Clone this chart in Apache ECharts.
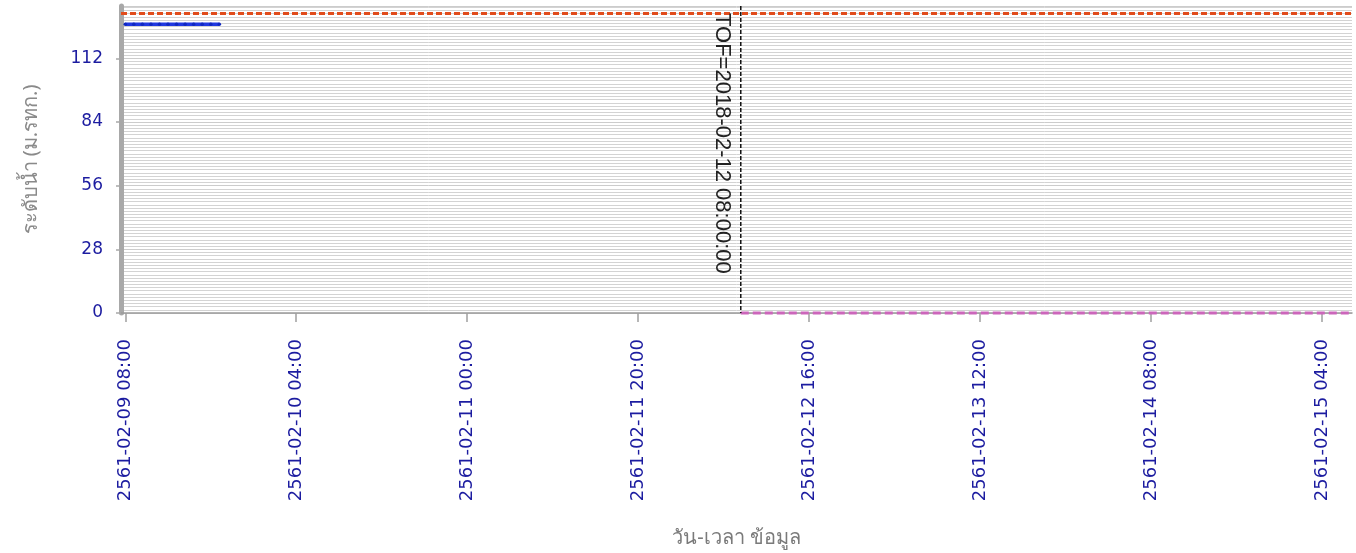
<!DOCTYPE html>
<html>
<head>
<meta charset="utf-8">
<script src="https://cdn.jsdelivr.net/npm/echarts@6/dist/echarts.min.js"></script>
<style>
html,body{margin:0;padding:0;background:#fff;}
#chart{width:1356px;height:553px;}
</style>
</head>
<body>
<div id="chart"></div>
<script>
// ---- data (Thai Buddhist-era timestamps, as shown on the chart) ----
const xTickLabels = ['2561-02-09 08:00','2561-02-10 04:00','2561-02-11 00:00','2561-02-11 20:00',
                     '2561-02-12 16:00','2561-02-13 12:00','2561-02-14 08:00','2561-02-15 04:00'];
const xRange = ['2561-02-09 07:30','2561-02-15 07:30'];
const waterTimes = ['2561-02-09 08:00','2561-02-09 09:00','2561-02-09 10:00','2561-02-09 11:00',
                    '2561-02-09 12:00','2561-02-09 13:00','2561-02-09 14:00','2561-02-09 15:00',
                    '2561-02-09 16:00','2561-02-09 17:00','2561-02-09 18:00','2561-02-09 19:00'];
const waterLevel = [127,127,127,127,127,127,127,127,127,127,127,127];
const forecastTimes = ['2561-02-12 08:00','2561-02-15 07:30'];
const forecastLevel = [0,0];
const bankLevel = 132;
const tofTime = '2561-02-12 08:00';
const tofLabel = 'TOF=2018-02-12 08:00:00';
const yTicks = {min:0, max:135, interval:28};

function toTime(s){
  const [d,t] = s.split(' ');
  const [y,m,dd] = d.split('-').map(Number);
  const [hh,mm] = t.split(':').map(Number);
  return Date.UTC(y-543, m-1, dd, hh, mm);
}
function pad(n){return (n<10?'0':'')+n;}
function fmt(v){
  const d = new Date(v);
  return (d.getUTCFullYear()+543)+'-'+pad(d.getUTCMonth()+1)+'-'+pad(d.getUTCDate())+' '+pad(d.getUTCHours())+':'+pad(d.getUTCMinutes());
}

const tickValues = xTickLabels.map(toTime);
const chart = echarts.init(document.getElementById('chart'));
chart.setOption({
  animation:false,
  backgroundColor:'#fff',
  grid:{left:121, right:4, top:6, bottom:234, containLabel:false},
  xAxis:{
    type:'value',
    min:toTime(xRange[0]), max:toTime(xRange[1]),
    name:'วัน-เวลา ข้อมูล', nameLocation:'middle', nameGap:215,
    nameTextStyle:{color:'#7a7a7a', fontSize:20, fontFamily:'Noto Sans, DejaVu Sans, sans-serif'},
    axisLine:{show:true, onZero:false, lineStyle:{color:'#9a9a9a', width:1.5}},
    axisTick:{show:true, length:9, customValues:tickValues, lineStyle:{color:'#a0a0a0', width:1.5}},
    axisLabel:{show:true, rotate:90, margin:26, customValues:tickValues,
      formatter:function(v){return fmt(v);},
      color:'#1c1ca0', fontSize:18, fontFamily:'DejaVu Sans'},
    splitLine:{show:false}
  },
  yAxis:{
    type:'value', min:yTicks.min, max:yTicks.max, interval:yTicks.interval,
    name:'ระดับน้ำ (ม.รทก.)', nameLocation:'middle', nameGap:80,
    nameTextStyle:{color:'#8a8a8a', fontSize:20, fontFamily:'Noto Sans, DejaVu Sans, sans-serif'},
    axisLine:{show:true, lineStyle:{color:'#a8a8a8', width:5}},
    axisTick:{show:true, length:5, lineStyle:{color:'#a8a8a8', width:1.5}},
    axisLabel:{color:'#1c1ca0', fontSize:17, fontFamily:'DejaVu Sans', margin:18, showMaxLabel:false},
    splitLine:{show:true, lineStyle:{color:'#cccccc', width:1}},
    minorTick:{show:false, splitNumber:20},
    minorSplitLine:{show:true, lineStyle:{color:'#d3d3d3', width:1}}
  },
  series:[
    {
      name:'bank', type:'line', data:[], silent:true,
      markLine:{silent:true, symbol:['none','none'], label:{show:false},
        lineStyle:{color:'#e14c1c', type:[6,3], width:3},
        data:[{yAxis:bankLevel}]}
    },
    {
      name:'water', type:'line',
      data:waterTimes.map((t,i)=>[toTime(t), waterLevel[i]]),
      lineStyle:{color:'#2038e0', width:3.5},
      itemStyle:{color:'#1028c0'},
      symbol:'circle', symbolSize:3.5, showSymbol:true
    },
    {
      name:'forecast', type:'line', clip:false,
      data:forecastTimes.map((t,i)=>[toTime(t), forecastLevel[i]]),
      lineStyle:{color:'#cc66bb', width:3, type:[8,4]},
      symbol:'none', z:5
    },
    {
      name:'tof', type:'custom', clip:false, z:6,
      data:[[toTime(tofTime)]],
      renderItem:function(params, api){
        const top = api.coord([api.value(0), yTicks.max]);
        const bot = api.coord([api.value(0), yTicks.min]);
        return {type:'group', children:[
          {type:'line', shape:{x1:top[0], y1:top[1], x2:bot[0], y2:bot[1]},
           style:{stroke:'#111', lineWidth:1.5, lineDash:[4,2]}},
          {type:'text', x:top[0]-8, y:top[1]+7, rotation:-Math.PI/2,
           style:{text:tofLabel, fill:'#222', font:'22px "Liberation Sans", Arial, sans-serif',
                  align:'left', verticalAlign:'top'}}
        ]};
      }
    }
  ]
});
</script>
</body>
</html>
